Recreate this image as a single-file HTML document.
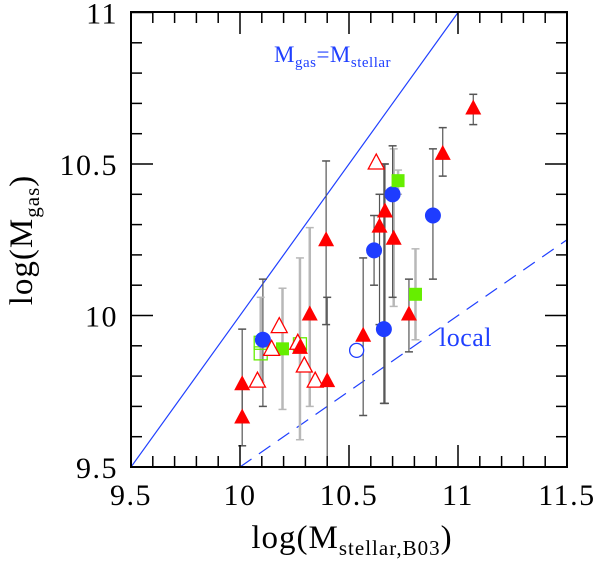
<!DOCTYPE html>
<html><head><meta charset="utf-8"><style>
body{margin:0;background:#fff}
svg{display:block}
text{font-family:"Liberation Serif",serif;fill:#000}
</style></head><body>
<svg id="chart" width="603" height="567" viewBox="0 0 603 567" xmlns="http://www.w3.org/2000/svg">
<g id="marks"></g>
<rect x="131" y="12" width="436" height="455" fill="none" stroke="#000" stroke-width="2"/>
<g id="ticks"></g>
<text x="352" y="548" font-size="33" letter-spacing="1" text-anchor="middle">log(M<tspan font-size="21" dy="7">stellar,B03</tspan><tspan dy="-7">)</tspan></text>
<text transform="translate(32,240) rotate(-90)" font-size="33" letter-spacing="1" text-anchor="middle">log(M<tspan font-size="21" dy="7">gas</tspan><tspan dy="-7">)</tspan></text>
<text x="274" y="62" font-size="23" letter-spacing="0.5" style="fill:#2040ff">M<tspan font-size="15" dy="5">gas</tspan><tspan dy="-5">=M</tspan><tspan font-size="15" dy="5">stellar</tspan></text>
<text x="439" y="346" font-size="26" letter-spacing="0.5" style="fill:#2040ff">local</text>
</svg>
<script>
const xTicks=[9.5,10,10.5,11,11.5];
const yTicks=[9.5,10,10.5,11];
const tickLabels={x:["9.5","10","10.5","11","11.5"],y:["9.5","10","10.5","11"]};
const redFilledX=[10.01,10.01,10.275,10.32,10.395,10.40,10.565,10.64,10.665,10.705,10.775,10.93,11.07];
const redFilledY=[9.77,9.66,9.89,10.0,10.245,9.78,9.93,10.29,10.34,10.25,10.0,10.53,10.68];
const redFilledLo=[9.66,9.57,9.59,9.70,9.97,9.5,9.67,9.97,9.71,10.03,9.88,10.46,10.63];
const redFilledHi=[9.955,9.77,10.19,10.29,10.51,10.06,10.19,10.40,10.50,10.55,10.12,10.62,10.73];
const redGrey=[0,0,1,1,0,0,0,0,0,1,0,0,0];
const redOpenX=[10.625,10.18,10.145,10.265,10.295,10.345,10.08];
const redOpenY=[10.5,9.96,9.885,9.905,9.83,9.78,9.78];
const blueX=[10.105,10.66,10.70,10.615,10.885];
const blueY=[9.92,9.955,10.40,10.215,10.33];
const blueLo=[9.70,9.71,10.06,10.10,10.12];
const blueHi=[10.12,10.5,10.56,10.33,10.55];
const blueOpenX=[10.535];
const blueOpenY=[9.885];
const greenX=[10.725,10.805,10.195];
const greenY=[10.445,10.07,9.89];
const greenLo=[10.40,9.92,9.69];
const greenHi=[10.48,10.22,10.09];
const greenOpenX=[10.095,10.095,10.275];
const greenOpenY=[9.91,9.875,9.905];
const greenOpenLo=[9.78,null,null];
const greenOpenHi=[10.06,null,null];

const X=v=>131+(v-9.5)*218, Y=v=>467-(v-9.5)*303;
const NS="http://www.w3.org/2000/svg";
const marks=document.getElementById('marks'), ticks=document.getElementById('ticks');
function mk(p,tag,a){const e=document.createElementNS(NS,tag);for(const k in a)e.setAttribute(k,a[k]);p.appendChild(e);return e;}
const cp=mk(document.getElementById('chart'),'clipPath',{id:'cp'});mk(cp,'rect',{x:131,y:12,width:436,height:455});
marks.setAttribute('clip-path','url(#cp)');
let l=mk(marks,'line',{x1:X(9.5),y1:Y(9.5),x2:X(11),y2:Y(11),stroke:'#2040ff','stroke-width':1.2});


l=mk(marks,'line',{x1:X(10),y1:Y(9.5),x2:X(11.5),y2:Y(10.25),stroke:'#2040ff','stroke-width':1.2,'stroke-dasharray':'14,9'});


function err(x,lo,hi,grey){if(lo==null)return;const c=grey?'#b8b8b8':'#555',w=grey?2.5:1.2;
 const g=mk(marks,'g',{stroke:c,'stroke-width':w});
 
 
 mk(g,'line',{x1:X(x),y1:Y(lo),x2:X(x),y2:Y(hi)});
 mk(g,'line',{x1:X(x)-4,y1:Y(lo),x2:X(x)+4,y2:Y(lo),'stroke-width':1.5});
 mk(g,'line',{x1:X(x)-4,y1:Y(hi),x2:X(x)+4,y2:Y(hi),'stroke-width':1.5});}
redFilledX.forEach((x,i)=>err(x,redFilledLo[i],redFilledHi[i],redGrey[i]));
blueX.forEach((x,i)=>err(x,blueLo[i],blueHi[i],0));
greenX.forEach((x,i)=>err(x,greenLo[i],greenHi[i],1));
greenOpenX.forEach((x,i)=>err(x,greenOpenLo[i],greenOpenHi[i],1));
function tri(x,y,fill,name){const cx=X(x),cy=Y(y);
 const e=mk(marks,'polygon',{points:`${cx},${cy-10} ${cx-8},${cy+5} ${cx+8},${cy+5}`,fill:fill?'#ff0000':'#fff',stroke:'#ff0000','stroke-width':fill?0:1.3});
 
 }
function sq(x,y,fill){const e=mk(marks,'rect',{x:X(x)-6.5,y:Y(y)-6.5,width:13,height:13,fill:fill?'#66ee00':'none',stroke:'#66ee00','stroke-width':fill?0:1.3});
 
 }
function circ(x,y,fill){const e=mk(marks,'circle',{cx:X(x),cy:Y(y),r:fill?8:7,fill:fill?'#1e3cff':'#fff',stroke:'#1e3cff','stroke-width':fill?0:1.3});
 
 }
greenOpenX.forEach((x,i)=>sq(x,greenOpenY[i],false));
blueX.forEach((x,i)=>circ(x,blueY[i],true));
blueOpenX.forEach((x,i)=>circ(x,blueOpenY[i],false));
greenX.forEach((x,i)=>sq(x,greenY[i],true));
redOpenX.forEach((x,i)=>tri(x,redOpenY[i],false,'red-open-triangle-point'));
redFilledX.forEach((x,i)=>tri(x,redFilledY[i],true,'red-triangle-point'));
for(let v=9.5;v<=11.501;v+=0.1){const m=Math.abs((v*2)-Math.round(v*2))<1e-6, len=m?22:11, x=X(v);
 mk(ticks,'line',{x1:x,y1:467,x2:x,y2:467-len,stroke:'#000','stroke-width':1.5});
 mk(ticks,'line',{x1:x,y1:12,x2:x,y2:12+len,stroke:'#000','stroke-width':1.5});}
for(let v=9.5;v<=11.001;v+=0.1){const m=Math.abs((v*2)-Math.round(v*2))<1e-6, len=m?22:11, y=Y(v);
 mk(ticks,'line',{x1:131,y1:y,x2:131+len,y2:y,stroke:'#000','stroke-width':1.5});
 mk(ticks,'line',{x1:567,y1:y,x2:567-len,y2:y,stroke:'#000','stroke-width':1.5});}
xTicks.forEach((v,i)=>{const t=mk(ticks,'text',{x:X(v),y:505,'font-size':30,'letter-spacing':1.5,'text-anchor':'middle'});t.textContent=tickLabels.x[i];
 
 });
yTicks.forEach((v,i)=>{const t=mk(ticks,'text',{x:118,y:Y(v)+11,'font-size':30,'letter-spacing':1.5,'text-anchor':'end'});t.textContent=tickLabels.y[i];
 
 });
</script>
</body></html>
